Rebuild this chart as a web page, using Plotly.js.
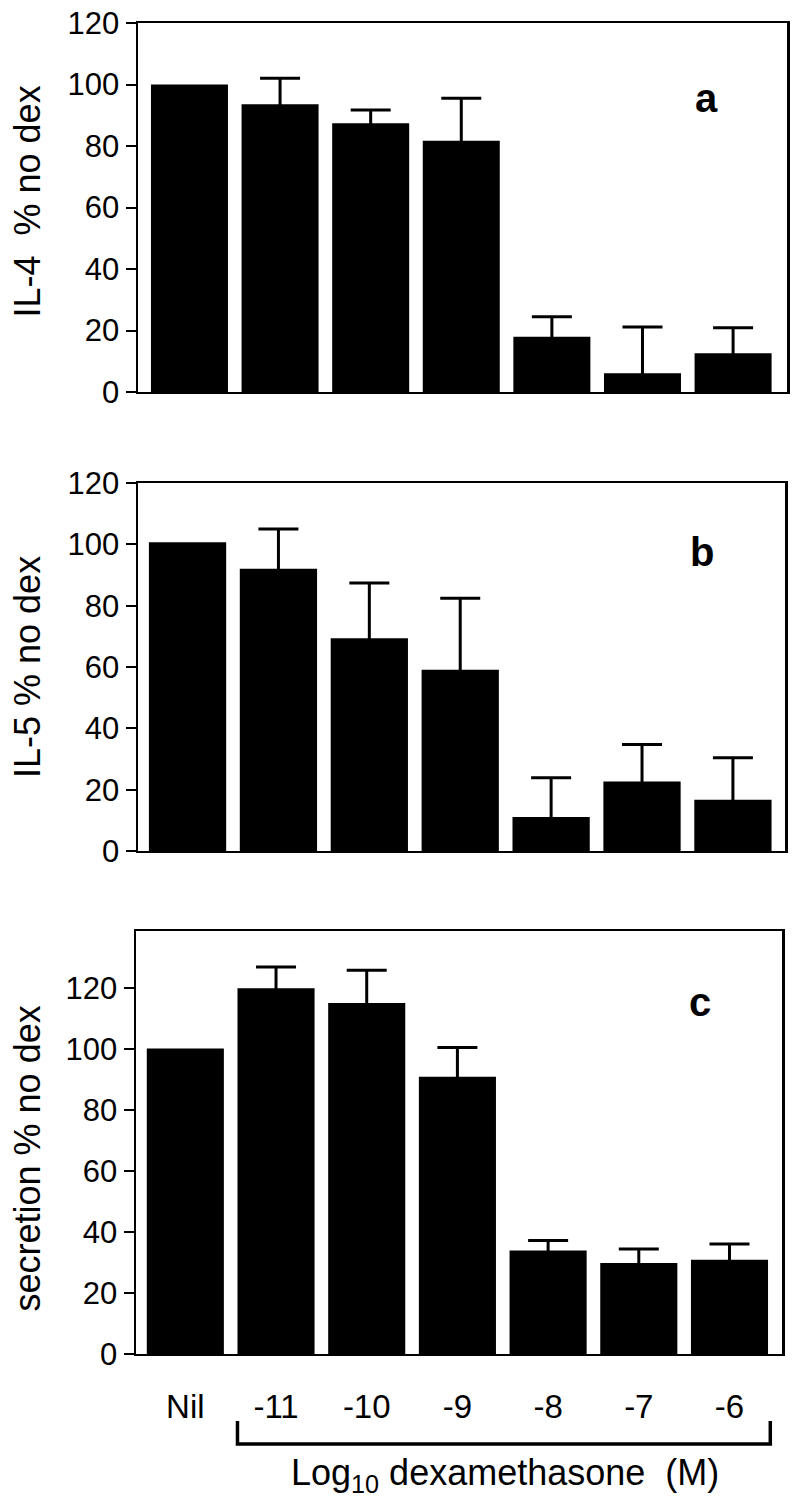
<!DOCTYPE html>
<html>
<head>
<meta charset="utf-8">
<script src="https://cdn.plot.ly/plotly-3.0.1.min.js"></script>
<style>html,body{margin:0;padding:0;background:#fff;}#chart{width:800px;height:1506px;}</style>
</head>
<body>
<div id="chart"></div>
<script>
const categories = ['Nil', '-11', '-10', '-9', '-8', '-7', '-6'];
const il4Values = [100, 93.6, 87.4, 81.7, 18, 6.1, 12.6];
const il4Errors = [NaN, 8.4, 4.3, 13.8, 6.5, 15, 8.3];
const il5Values = [100.7, 92, 69.4, 59.1, 11.1, 22.7, 16.7];
const il5Errors = [NaN, 13, 18, 23.3, 12.8, 12, 13.7];
const secValues = [100.2, 119.9, 115.1, 90.9, 33.9, 29.8, 30.9];
const secErrors = [NaN, 7, 10.7, 9.6, 3.3, 4.6, 5.2];
const yTickVals = [0, 20, 40, 60, 80, 100, 120];
const panelLetters = ['a', 'b', 'c'];
const yTitles = ['IL-4  % no dex', 'IL-5 % no dex', 'secretion % no dex'];
const xTitle = 'Log<sub>10</sub> dexamethasone  (M)';

const FONT = '"Liberation Sans", Arial, Helvetica, sans-serif';
const H = 1506, W = 800;
const py = p => 1 - p / H;
const px = p => p / W;

function barTrace(vals, errs, xa, ya) {
  return {
    type: 'bar', x: categories, y: vals, xaxis: xa, yaxis: ya,
    marker: {color: '#000000', opacity: 1, line: {width: 0}},
    error_y: {type: 'data', symmetric: true, array: errs,
              color: '#000000', thickness: 3, width: 20},
    showlegend: false, hoverinfo: 'skip'
  };
}

const data = [
  barTrace(il4Values, il4Errors, 'x', 'y'),
  barTrace(il5Values, il5Errors, 'x2', 'y2'),
  barTrace(secValues, secErrors, 'x3', 'y3')
];

function xAxis(domain, range, showLabels, anchor) {
  return {
    domain: domain, range: range, type: 'category', anchor: anchor,
    showline: true, linecolor: '#000', linewidth: 2, mirror: true,
    ticks: '', showticklabels: showLabels, showgrid: false, zeroline: false,
    tickfont: {family: FONT, size: 33, color: '#000'},
    ticklabelstandoff: 22, fixedrange: true
  };
}
function yAxis(domain, range, anchor) {
  return {
    domain: domain, range: range, anchor: anchor,
    showline: true, linecolor: '#000', linewidth: 2.5, mirror: true,
    ticks: 'outside', ticklen: 10, tickwidth: 2, tickcolor: '#000',
    tickvals: yTickVals, ticktext: yTickVals.map(String),
    tickfont: {family: FONT, size: 31, color: '#000'},
    ticklabelstandoff: 0,
    showgrid: false, zeroline: false, fixedrange: true
  };
}

const annotations = [];
const letterPos = [[5.71, 95.5, 'x', 'y'], [5.66, 97.5, 'x2', 'y2'], [5.68, 115.5, 'x3', 'y3']];
panelLetters.forEach((t, i) => {
  annotations.push({text: '<b>' + t + '</b>', x: letterPos[i][0], y: letterPos[i][1],
    xref: letterPos[i][2], yref: letterPos[i][3], showarrow: false,
    font: {family: FONT, size: 40, color: '#000'}, xanchor: 'center', yanchor: 'middle'});
});
const titleY = [(23 + 392) / 2 - 6, (483 + 851) / 2, (931 + 1354) / 2 + 16];
yTitles.forEach((t, i) => {
  annotations.push({text: t, x: px(27), y: py(titleY[i]), xref: 'paper', yref: 'paper',
    textangle: -90, showarrow: false, xanchor: 'center', yanchor: 'middle',
    font: {family: FONT, size: 36, color: '#000'}});
});
annotations.push({text: xTitle, x: px(505), y: py(1475), xref: 'paper', yref: 'paper',
  showarrow: false, xanchor: 'center', yanchor: 'middle',
  font: {family: FONT, size: 36, color: '#000'}});

const bx0 = 0.575, bx1 = 6.45, byTop = py(1421), byBot = py(1444);
const shapes = [{
  type: 'path', xref: 'x3', yref: 'paper',
  path: `M ${bx0},${byTop} L ${bx0},${byBot} L ${bx1},${byBot} L ${bx1},${byTop}`,
  line: {color: '#000', width: 3.5}
}];

const layout = {
  width: W, height: H,
  margin: {l: 0, r: 0, t: 0, b: 0},
  paper_bgcolor: '#fff', plot_bgcolor: '#fff',
  bargap: 0.15, showlegend: false,
  xaxis: xAxis([px(138), px(787)], [-0.568, 6.595], false, 'y'),
  yaxis: yAxis([py(392), py(23)], [0, 120], 'x'),
  xaxis2: xAxis([px(138), px(785)], [-0.545, 6.573], false, 'y2'),
  yaxis2: yAxis([py(851), py(483)], [0, 120], 'x2'),
  xaxis3: xAxis([px(136), px(782)], [-0.544, 6.579], true, 'y3'),
  yaxis3: yAxis([py(1354), py(931)], [0, 138.7], 'x3'),
  annotations: annotations,
  shapes: shapes
};

Plotly.newPlot('chart', data, layout, {staticPlot: true, displayModeBar: false});
</script>
</body>
</html>
